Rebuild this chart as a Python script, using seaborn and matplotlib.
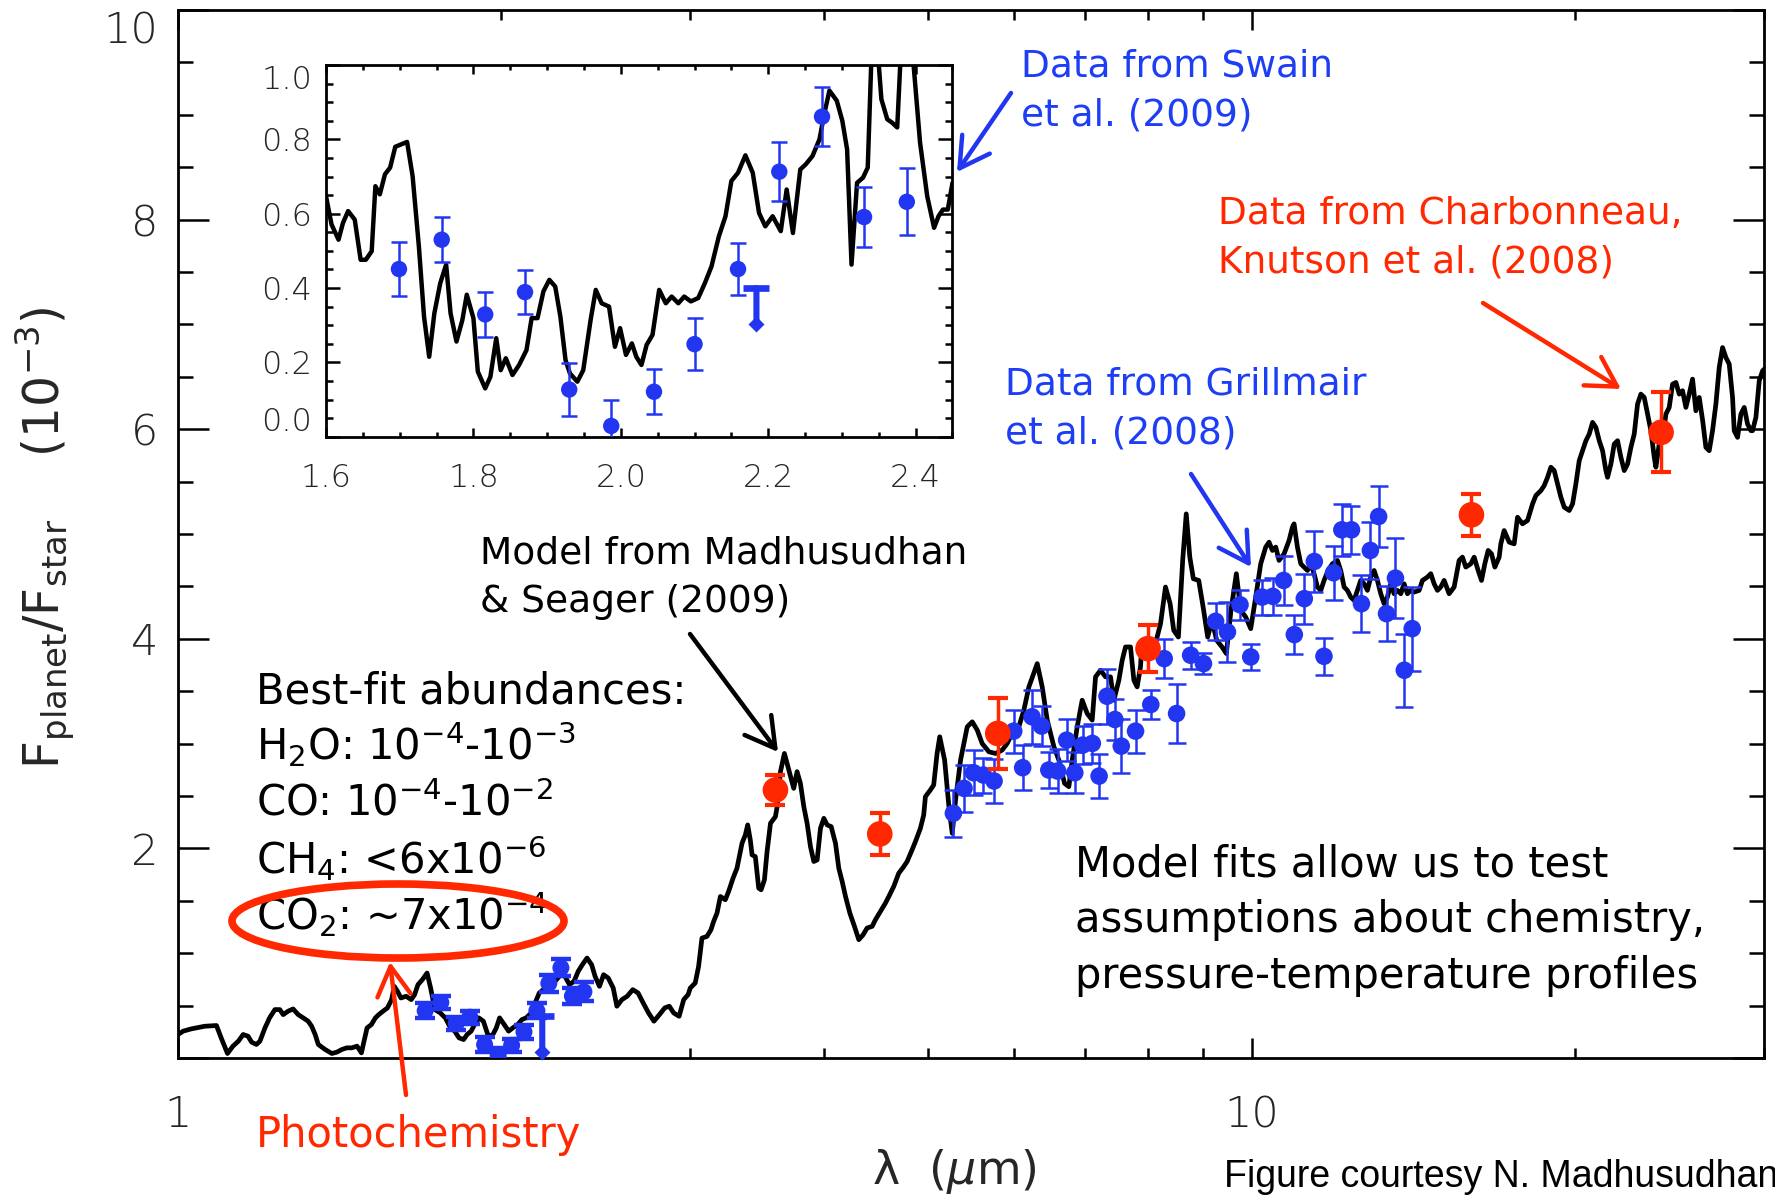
import matplotlib
matplotlib.use("Agg")
import matplotlib.pyplot as plt
import matplotlib.transforms as mtransforms
from matplotlib.patches import Ellipse, FancyArrowPatch
from matplotlib.ticker import FixedLocator, FixedFormatter, MultipleLocator, NullFormatter
import numpy as np
import pandas as pd
import seaborn as sns

# ---------------------------------------------------------------- data
# Planet/star flux ratio of the best-fit model (units of 1e-3)
model_wl = [
    1.000, 1.011, 1.029, 1.059, 1.086, 1.097, 1.112, 1.125, 1.138, 1.150, 1.162, 1.171,
    1.183, 1.192, 1.205, 1.217, 1.231, 1.244, 1.253, 1.266, 1.280, 1.294, 1.308, 1.322,
    1.332, 1.342, 1.351, 1.371, 1.391, 1.406, 1.421, 1.436, 1.452, 1.468, 1.482, 1.489,
    1.500, 1.514, 1.527, 1.538, 1.552, 1.567, 1.581, 1.590, 1.601, 1.613, 1.631, 1.649,
    1.661, 1.673, 1.689, 1.706, 1.719, 1.735, 1.755, 1.774, 1.794, 1.810, 1.827, 1.845,
    1.859, 1.875, 1.889, 1.906, 1.925, 1.943, 1.961, 1.979, 1.993, 2.013, 2.032, 2.050,
    2.072, 2.091, 2.110, 2.133, 2.154, 2.170, 2.189, 2.214, 2.230, 2.252, 2.272, 2.293,
    2.315, 2.338, 2.359, 2.380, 2.404, 2.428, 2.446, 2.469, 2.491, 2.516, 2.543, 2.563,
    2.591, 2.620, 2.652, 2.682, 2.712, 2.743, 2.775, 2.808, 2.840, 2.868, 2.895, 2.929,
    2.958, 2.986, 3.000, 3.032, 3.054, 3.076, 3.109, 3.136, 3.154, 3.177, 3.200, 3.234,
    3.257, 3.288, 3.316, 3.335, 3.352, 3.376, 3.393, 3.412, 3.425, 3.449, 3.474, 3.492,
    3.517, 3.537, 3.563, 3.601, 3.614, 3.640, 3.671, 3.692, 3.724, 3.745, 3.772, 3.799,
    3.827, 3.854, 3.882, 3.910, 3.938, 3.966, 3.995, 4.023, 4.058, 4.096, 4.125, 4.155,
    4.185, 4.224, 4.266, 4.306, 4.346, 4.383, 4.431, 4.462, 4.510, 4.559, 4.592, 4.641,
    4.691, 4.742, 4.776, 4.827, 4.862, 4.914, 4.949, 4.967, 5.020, 5.056, 5.093, 5.122,
    5.176, 5.224, 5.261, 5.299, 5.356, 5.433, 5.492, 5.551, 5.610, 5.691, 5.773, 5.856,
    5.919, 5.983, 6.069, 6.135, 6.201, 6.313, 6.381, 6.450, 6.543, 6.613, 6.694, 6.756,
    6.805, 6.878, 6.952, 7.027, 7.103, 7.154, 7.231, 7.309, 7.387, 7.441, 7.521, 7.575,
    7.629, 7.711, 7.767, 7.822, 7.878, 7.906, 7.987, 8.049, 8.142, 8.224, 8.312, 8.395,
    8.460, 8.545, 8.624, 8.690, 8.757, 8.824, 8.926, 9.016, 9.099, 9.184, 9.276, 9.383,
    9.470, 9.565, 9.676, 9.767, 9.872, 9.979, 10.086, 10.195, 10.305, 10.379, 10.454,
    10.529, 10.604, 10.719, 10.834, 10.912, 10.951, 11.030, 11.109, 11.189, 11.269,
    11.350, 11.431, 11.513, 11.596, 11.679, 11.780, 11.890, 12.018, 12.104, 12.191,
    12.278, 12.366, 12.455, 12.544, 12.634, 12.725, 12.816, 12.908, 13.001, 13.094,
    13.188, 13.283, 13.378, 13.474, 13.571, 13.668, 13.767, 13.865, 13.965, 14.065,
    14.166, 14.319, 14.422, 14.577, 14.682, 14.787, 14.893, 15.000, 15.108, 15.271,
    15.436, 15.602, 15.714, 15.827, 15.998, 16.113, 16.252, 16.369, 16.486, 16.605,
    16.724, 16.844, 17.001, 17.061, 17.184, 17.370, 17.557, 17.683, 17.874, 18.067,
    18.262, 18.393, 18.591, 18.725, 18.860, 18.995, 19.131, 19.269, 19.407, 19.546,
    19.757, 19.899, 20.041, 20.185, 20.330, 20.476, 20.623, 20.771, 20.920, 21.070,
    21.221, 21.373, 21.450, 21.604, 21.759, 21.915, 22.072, 22.231, 22.390, 22.551,
    22.712, 22.875, 23.039, 23.205, 23.371, 23.539, 23.708, 23.792, 23.963, 24.135,
    24.308, 24.482, 24.658, 24.835, 25.013, 25.192, 25.373, 25.555, 25.738, 25.923,
    26.109, 26.303, 26.485, 26.675, 26.866, 27.059, 27.253, 27.449, 27.646, 27.844,
    28.044, 28.144, 28.346, 28.550, 28.754, 28.961, 29.169, 29.273, 29.483, 29.695,
    29.908, 30.015,
]
model_flux = [
    0.224, 0.256, 0.278, 0.303, 0.310, 0.192, 0.043, 0.113, 0.160, 0.224, 0.208, 0.151,
    0.129, 0.160, 0.287, 0.383, 0.462, 0.462, 0.414, 0.446, 0.468, 0.414, 0.383, 0.351,
    0.303, 0.224, 0.129, 0.081, 0.043, 0.056, 0.081, 0.097, 0.097, 0.113, 0.049, 0.144,
    0.287, 0.319, 0.383, 0.414, 0.446, 0.478, 0.557, 0.684, 0.637, 0.573, 0.589, 0.557,
    0.605, 0.700, 0.748, 0.811, 0.668, 0.462, 0.430, 0.383, 0.287, 0.256, 0.192, 0.176,
    0.224, 0.256, 0.319, 0.383, 0.351, 0.224, 0.208, 0.287, 0.383, 0.319, 0.256, 0.287,
    0.319, 0.367, 0.383, 0.430, 0.541, 0.621, 0.652, 0.637, 0.700, 0.748, 0.795, 0.779,
    0.700, 0.732, 0.827, 0.890, 0.954, 0.890, 0.779, 0.684, 0.795, 0.763, 0.668, 0.494,
    0.557, 0.589, 0.652, 0.621, 0.525, 0.430, 0.351, 0.414, 0.478, 0.494, 0.430, 0.398,
    0.557, 0.605, 0.668, 0.716, 0.875, 1.144, 1.160, 1.224, 1.303, 1.383, 1.541, 1.510,
    1.589, 1.716, 1.811, 1.938, 2.049, 2.129, 2.224, 2.081, 1.938, 1.922, 1.621, 1.605,
    1.700, 1.970, 2.240, 2.303, 2.398, 2.732, 2.906, 2.811, 2.668, 2.573, 2.732, 2.621,
    2.398, 2.240, 2.017, 1.875, 1.890, 2.192, 2.287, 2.224, 2.208, 2.049, 1.811, 1.684,
    1.541, 1.383, 1.256, 1.129, 1.176, 1.240, 1.256, 1.319, 1.398, 1.478, 1.541, 1.637,
    1.763, 1.827, 1.875, 1.986, 2.065, 2.192, 2.319, 2.494, 2.557, 2.605, 2.906, 3.065,
    2.843, 2.398, 2.144, 2.462, 2.843, 3.160, 3.208, 3.129, 3.001, 2.922, 2.906, 2.938,
    3.001, 3.097, 3.160, 3.319, 3.541, 3.763, 3.541, 3.224, 2.970, 2.843, 2.621, 2.589,
    2.843, 3.160, 3.414, 3.287, 3.224, 3.637, 3.700, 3.637, 3.637, 3.414, 3.605, 3.795,
    3.922, 3.922, 3.605, 3.541, 3.732, 3.986, 3.859, 3.890, 3.970, 4.144, 4.494, 4.335,
    4.081, 4.017, 4.748, 5.192, 4.779, 4.573, 4.557, 4.287, 4.017, 4.176, 3.986, 3.922,
    3.859, 4.271, 4.621, 4.271, 4.208, 4.097, 4.398, 4.716, 4.875, 4.922, 4.843,
    4.875, 4.748, 4.811, 4.938, 5.065, 5.097, 4.875, 4.716, 4.684, 4.652,
    4.716, 4.621, 4.494, 4.462, 4.557, 4.652, 4.716, 4.748, 4.652, 4.494,
    4.462, 4.398, 4.367, 4.462, 4.557, 4.525, 4.462, 4.589, 4.652, 4.557,
    4.430, 4.335, 4.398, 4.525, 4.430, 4.462, 4.430, 4.525, 4.430, 4.462,
    4.446, 4.462, 4.557, 4.589, 4.621, 4.525, 4.462, 4.494, 4.557, 4.430,
    4.494, 4.748, 4.779, 4.684, 4.716, 4.779, 4.652, 4.557, 4.716, 4.843,
    4.811, 4.684, 4.779, 4.906, 5.033, 4.922, 4.906, 5.160, 5.097, 5.129,
    5.287, 5.367, 5.414, 5.462, 5.541, 5.637, 5.605, 5.478, 5.351, 5.256,
    5.224, 5.287, 5.478, 5.700, 5.795, 5.890, 5.954, 6.065, 6.017, 5.890,
    5.795, 5.605, 5.541, 5.668, 5.859, 5.890, 5.732, 5.605, 5.668, 5.827,
    5.954, 6.240, 6.335, 6.303, 6.144, 5.986, 5.732, 5.637, 5.859, 5.890,
    6.144, 6.208, 6.430, 6.446, 6.335, 6.367, 6.208, 6.335, 6.478, 6.176,
    6.303, 6.081, 5.827, 5.795, 5.986, 6.240, 6.589, 6.779, 6.684, 6.621,
    6.303, 5.986, 5.922, 6.144, 6.208, 6.049, 5.986, 5.986, 6.113, 6.462,
    6.557, 6.573,
]

# Higher-resolution model used in the NICMOS close-up
inset_wl = [
    1.600, 1.6075, 1.617, 1.623, 1.630, 1.639, 1.647, 1.654, 1.662, 1.667, 1.673, 1.680,
    1.687, 1.694, 1.710, 1.7175, 1.726, 1.733, 1.740, 1.747, 1.755, 1.763, 1.769, 1.777,
    1.785, 1.791, 1.800, 1.806, 1.816, 1.823, 1.831, 1.837, 1.844, 1.853, 1.862, 1.872,
    1.879, 1.887, 1.895, 1.903, 1.911, 1.918, 1.925, 1.931, 1.941, 1.949, 1.959, 1.966,
    1.974, 1.984, 1.992, 1.999, 2.007, 2.015, 2.021, 2.028, 2.035, 2.043, 2.052, 2.061,
    2.069, 2.078, 2.086, 2.095, 2.105, 2.114, 2.123, 2.133, 2.142, 2.150, 2.159, 2.169,
    2.179, 2.1875, 2.196, 2.206, 2.217, 2.225, 2.2335, 2.2435, 2.251, 2.260, 2.2695,
    2.276, 2.283, 2.293, 2.3005, 2.307, 2.313, 2.3205, 2.3286, 2.335, 2.341, 2.347,
    2.3535, 2.3615, 2.368, 2.375, 2.3815, 2.393, 2.406, 2.4157, 2.425, 2.431, 2.437,
    2.4436, 2.450,
]
inset_flux = [
    0.647, 0.571, 0.530, 0.575, 0.607, 0.584, 0.476, 0.476, 0.499, 0.674, 0.652, 0.706,
    0.724, 0.780, 0.793, 0.701, 0.512, 0.323, 0.215, 0.332, 0.413, 0.463, 0.332, 0.256,
    0.314, 0.382, 0.319, 0.175, 0.130, 0.161, 0.265, 0.179, 0.211, 0.166, 0.193, 0.233,
    0.319, 0.319, 0.391, 0.422, 0.404, 0.323, 0.206, 0.170, 0.148, 0.179, 0.314, 0.395,
    0.359, 0.350, 0.242, 0.292, 0.220, 0.251, 0.215, 0.193, 0.247, 0.274, 0.395, 0.359,
    0.377, 0.359, 0.377, 0.364, 0.373, 0.413, 0.458, 0.539, 0.593, 0.688, 0.710, 0.757,
    0.710, 0.602, 0.566, 0.593, 0.553, 0.665, 0.548, 0.719, 0.733, 0.755, 0.800,
    0.868, 0.931, 0.904, 0.850, 0.773, 0.463, 0.683, 0.697, 0.724, 1.080, 1.080,
    0.908, 0.854, 0.845, 0.832, 1.100, 1.100, 0.791, 0.647, 0.562, 0.593, 0.611,
    0.611, 0.683,
]

# Swain et al. (2009) HST/NICMOS spectrum
swain_wl = [1.699, 1.757, 1.816, 1.870, 1.930, 1.987, 2.045, 2.100, 2.159, 2.215, 2.273, 2.330, 2.388]
swain_val = [0.451, 0.530, 0.329, 0.389, 0.127, 0.029, 0.121, 0.249, 0.451, 0.713, 0.861, 0.591, 0.632]
swain_err = [0.072, 0.060, 0.060, 0.060, 0.070, 0.070, 0.060, 0.070, 0.070, 0.080, 0.080, 0.080, 0.090]
swain_ul_wl = [2.184]
swain_ul_val = [0.40]

# Grillmair et al. (2008) Spitzer/IRS spectrum
grill_wl = [
    5.274, 5.396, 5.508, 5.625, 5.755, 6.003, 6.119, 6.243, 6.373, 6.472, 6.596, 6.724,
    6.843, 6.960, 7.105, 7.209, 7.332, 7.457, 7.560, 7.795, 8.054, 8.289, 8.512, 8.773,
    9.017, 9.255, 9.493, 9.752, 9.979, 10.226, 10.464, 10.708, 10.957, 11.194, 11.437,
    11.676, 11.920, 12.132, 12.386, 12.653, 12.898, 13.128, 13.352, 13.611, 13.872, 14.108,
]
grill_val = [
    2.335, 2.573, 2.722, 2.700, 2.643, 3.119, 2.770, 3.256, 3.167, 2.748, 2.738, 3.033,
    2.722, 2.986, 3.002, 2.690, 3.452, 3.230, 2.976, 3.119, 3.373, 3.811, 3.287, 3.843,
    3.763, 4.167, 4.065, 4.325, 3.827, 4.398, 4.405, 4.557, 4.040, 4.383, 4.738,
    3.833, 4.630, 5.040, 5.040, 4.335, 4.843, 5.167, 4.240, 4.579, 3.700, 4.097,
]
grill_err = [
    0.222, 0.222, 0.217, 0.167, 0.214, 0.206, 0.214, 0.257, 0.190, 0.175, 0.214, 0.202,
    0.198, 0.183, 0.183, 0.206, 0.262, 0.198, 0.254, 0.206, 0.143, 0.183, 0.286, 0.127,
    0.103, 0.175, 0.283, 0.143, 0.124, 0.167, 0.178, 0.233, 0.183, 0.238, 0.289,
    0.175, 0.259, 0.251, 0.227, 0.270, 0.275, 0.294, 0.260, 0.384, 0.349, 0.400,
]

# Charbonneau et al. / Knutson et al. (2008) Spitzer photometry
phot_wl = [3.601, 4.504, 5.801, 8.006, 16.02, 24.06]
phot_val = [2.557, 2.138, 3.097, 3.906, 5.183, 5.970]
phot_err = [0.143, 0.198, 0.338, 0.222, 0.203, 0.381]

# ---------------------------------------------------------------- style
BLUE = "#2236f2"
BLUE_TXT = "#1d3ef5"
RED = "#ff2800"
BLACK = "black"

sns.set_theme(style="ticks")
plt.rcParams["font.family"] = ["DejaVu Sans"]
plt.rcParams["mathtext.fontset"] = "dejavusans"
plt.rcParams["axes.linewidth"] = 2.0

W, H = 1775, 1199
fig = plt.figure(figsize=(W / 100, H / 100), dpi=100)
fig.patch.set_facecolor("white")


def fxy(px, py):
    """Figure fraction from a pixel position measured from the top-left corner."""
    return (px / W, 1 - py / H)


# ---------------------------------------------------------------- main panel
ax = fig.add_axes([178 / W, 1 - 1058 / H, 1586 / W, 1048 / H])
ax.set_facecolor("white")
ax.set_xscale("log")
ax.set_xlim(1, 30)
ax.set_ylim(0, 10)

model_df = pd.DataFrame({"wl": model_wl, "flux": model_flux})
sns.lineplot(data=model_df, x="wl", y="flux", ax=ax, color=BLACK, lw=3.4,
             sort=False, estimator=None, zorder=2)

ax.errorbar(grill_wl, grill_val, yerr=grill_err, fmt="none", ecolor=BLUE,
            elinewidth=1.8, capsize=6.5, capthick=1.8, zorder=3)
sns.scatterplot(x=grill_wl, y=grill_val, ax=ax, color=BLUE, s=160,
                edgecolor="none", linewidth=0, zorder=4)

ax.errorbar(swain_wl, swain_val, yerr=swain_err, fmt="none", ecolor=BLUE,
            elinewidth=2.6, capsize=7.5, capthick=3.2, zorder=3)
sns.scatterplot(x=swain_wl, y=swain_val, ax=ax, color=BLUE, s=150,
                edgecolor="none", linewidth=0, zorder=4)

ax.errorbar(phot_wl, phot_val, yerr=phot_err, fmt="none", ecolor=RED,
            elinewidth=2.5, capsize=7.5, capthick=3.0, zorder=5)
sns.scatterplot(x=phot_wl, y=phot_val, ax=ax, color=RED, s=340,
                edgecolor="none", linewidth=0, zorder=6)


def upper_limit(axis, xs, vs, cap=17):
    """T-shaped upper-limit symbol with a diamond tip."""
    for x, v in zip(xs, vs):
        axis.plot([x], [v], marker="_", ms=cap, mew=4.8, color=BLUE, zorder=6)
        axis.annotate("", xy=(x, v), xytext=(0, -25), textcoords="offset points",
                      arrowprops=dict(arrowstyle="-", lw=4.4, color=BLUE,
                                      shrinkA=0, shrinkB=0), zorder=6)
        off = mtransforms.offset_copy(axis.transData, fig=fig, x=0, y=-26, units="points")
        axis.plot([x], [v], marker="D", ms=8.5, color=BLUE, mec="none",
                  transform=off, zorder=6, clip_on=False)


upper_limit(ax, swain_ul_wl, swain_ul_val)

# axes, ticks
ax.xaxis.set_major_locator(FixedLocator([1, 10]))
ax.xaxis.set_major_formatter(FixedFormatter(["1", "10"]))
ax.xaxis.set_minor_locator(FixedLocator([2, 3, 4, 5, 6, 7, 8, 9, 20, 30]))
ax.xaxis.set_minor_formatter(NullFormatter())
ax.yaxis.set_major_locator(FixedLocator([0, 2, 4, 6, 8, 10]))
ax.yaxis.set_major_formatter(FixedFormatter(["", "2", "4", "6", "8", "10"]))
ax.yaxis.set_minor_locator(MultipleLocator(0.5))
ax.tick_params(which="both", direction="in", top=True, right=True, color=BLACK, width=1.8)
ax.tick_params(axis="x", which="major", length=14.5, pad=26, labelsize=31)
ax.tick_params(axis="x", which="minor", length=7.5)
ax.tick_params(axis="y", which="major", length=22, pad=14, labelsize=31)
ax.tick_params(axis="y", which="minor", length=11)
for lab in ax.get_xticklabels() + ax.get_yticklabels():
    lab.set_fontweight("light")
ax.set_xlabel("")
ax.set_ylabel("")
for sp in ax.spines.values():
    sp.set_visible(True)
    sp.set_color(BLACK)
    sp.set_linewidth(2.0)
ax.yaxis.get_major_ticks()[-1].label1.set_va("top")

# ---------------------------------------------------------------- inset
axin = fig.add_axes([326 / W, 1 - 436.7 / H, 626.5 / W, 371.7 / H])
axin.set_facecolor("white")
axin.set_zorder(10)
axin.set_xlim(1.6, 2.45)
axin.set_ylim(0, 1.0)
inset_df = pd.DataFrame({"wl": inset_wl, "flux": inset_flux})
sns.lineplot(data=inset_df, x="wl", y="flux", ax=axin, color=BLACK, lw=3.2,
             sort=False, estimator=None, zorder=2)
axin.errorbar(swain_wl, swain_val, yerr=swain_err, fmt="none", ecolor=BLUE,
              elinewidth=1.8, capsize=6, capthick=1.8, zorder=3)
sns.scatterplot(x=swain_wl, y=swain_val, ax=axin, color=BLUE, s=140,
                edgecolor="none", linewidth=0, zorder=4)
upper_limit(axin, swain_ul_wl, swain_ul_val, cap=19)

axin.xaxis.set_major_locator(FixedLocator([1.6, 1.8, 2.0, 2.2, 2.4]))
axin.xaxis.set_major_formatter(FixedFormatter(["1.6", "1.8", "2.0", "2.2", "2.4"]))
axin.xaxis.set_minor_locator(MultipleLocator(0.05))
axin.yaxis.set_major_locator(FixedLocator([0.0, 0.2, 0.4, 0.6, 0.8, 1.0]))
axin.yaxis.set_major_formatter(FixedFormatter(["0.0", "0.2", "0.4", "0.6", "0.8", "1.0"]))
axin.yaxis.set_minor_locator(MultipleLocator(0.05))
axin.tick_params(which="both", direction="in", top=True, right=True, color=BLACK, width=1.8)
axin.tick_params(axis="x", which="major", length=6.5, pad=19, labelsize=23)
axin.tick_params(axis="x", which="minor", length=3.5)
axin.tick_params(axis="y", which="major", length=10, pad=10, labelsize=23)
axin.tick_params(axis="y", which="minor", length=5)
for lab in axin.get_xticklabels() + axin.get_yticklabels():
    lab.set_fontweight("light")
axin.set_xlabel("")
axin.set_ylabel("")
for sp in axin.spines.values():
    sp.set_visible(True)
    sp.set_color(BLACK)
    sp.set_linewidth(2.0)
axin.yaxis.get_major_ticks()[0].label1.set_va("bottom")
axin.yaxis.get_major_ticks()[-1].label1.set_va("top")

# ---------------------------------------------------------------- axis titles
fig.text(*fxy(954, 1172), r"$\mathrm{\lambda}\ \ (\mu\mathrm{m})$", fontsize=33,
         ha="center", va="center")
fig.text(*fxy(45, 538), r"$\mathrm{F_{planet}/F_{star}}\ \ \ \ (10^{-3})$", fontsize=35,
         ha="center", va="center", rotation=90)

# ---------------------------------------------------------------- annotations
fig.text(*fxy(1021, 91), "Data from Swain\net al. (2009)", fontsize=27,
         color=BLUE_TXT, ha="left", va="center", linespacing=1.45)
fig.text(*fxy(1218, 238), "Data from Charbonneau,\nKnutson et al. (2008)", fontsize=27,
         color=RED, ha="left", va="center", linespacing=1.45)
fig.text(*fxy(1005, 409), "Data from Grillmair\net al. (2008)", fontsize=27,
         color=BLUE_TXT, ha="left", va="center", linespacing=1.45)
fig.text(*fxy(480, 578), "Model from Madhusudhan\n& Seager (2009)", fontsize=27,
         color=BLACK, ha="left", va="center", linespacing=1.45)

abund_lines = [
    "Best-fit abundances:",
    r"H$_2$O: 10$^{-4}$-10$^{-3}$",
    r"CO: 10$^{-4}$-10$^{-2}$",
    r"CH$_4$: <6x10$^{-6}$",
    r"CO$_2$: ~7x10$^{-4}$",
]
abund_base = [704, 760, 816, 874, 930]
for txt, py in zip(abund_lines, abund_base):
    fig.text(*fxy(256, py), txt, fontsize=30, color=BLACK, ha="left", va="baseline")

fig.text(*fxy(1075, 920), "Model fits allow us to test\nassumptions about chemistry,\n"
         "pressure-temperature profiles", fontsize=30, color=BLACK,
         ha="left", va="center", linespacing=1.42)
fig.text(*fxy(256, 1135), "Photochemistry", fontsize=30, color=RED,
         ha="left", va="center")
fig.text(*fxy(1224, 1177), "Figure courtesy N. Madhusudhan", fontsize=27,
         family=["Liberation Sans Narrow", "Liberation Sans", "DejaVu Sans"], color=BLACK,
         ha="left", va="center")

# highlight around the CO2 abundance
ell = Ellipse(fxy(398, 921), width=332 / W, height=74 / H, transform=fig.transFigure,
              fill=False, edgecolor=RED, lw=5.5, zorder=20)
fig.add_artist(ell)

arrows = [
    ((1011, 93), (957, 172), BLUE),
    ((1483, 303), (1621, 389), RED),
    ((1191, 474), (1251, 567), BLUE),
    ((690, 634), (778, 752), BLACK),
    ((406, 1095), (390, 962), RED),
]
for (p0, p1, col) in arrows:
    arr = FancyArrowPatch(fxy(*p0), fxy(*p1), transform=fig.transFigure,
                          arrowstyle="->,head_length=0.7,head_width=0.4",
                          mutation_scale=30, lw=3.2, color=col,
                          shrinkA=0, shrinkB=0, zorder=21)
    fig.add_artist(arr)

fig.savefig("out.png", dpi=100, facecolor="white")
